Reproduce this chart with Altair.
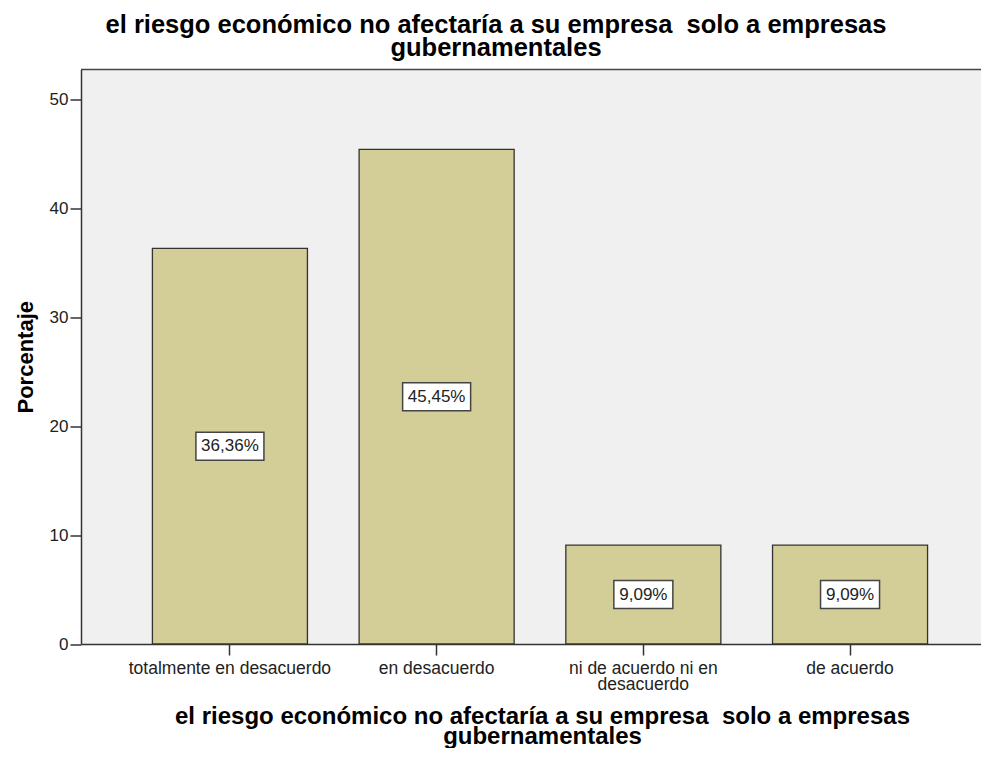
import altair as alt
import pandas as pd

categories = ["totalmente en desacuerdo", "en desacuerdo",
              "ni de acuerdo ni en desacuerdo", "de acuerdo"]
percentages = [36.36, 45.45, 9.09, 9.09]
y_ticks = [0, 10, 20, 30, 40, 50]
title_lines = ["el riesgo económico no afectaría a su empresa \u00a0solo a empresas",
               "gubernamentales"]
y_title = "Porcentaje"

df = pd.DataFrame({"cat": categories, "pct": percentages})

FONT = "Liberation Sans, Arial, sans-serif"
W, H = 900, 574.5

x_scale = alt.Scale(domain=categories, paddingInner=0.25, paddingOuter=0.302, align=0.572)
y_scale = alt.Scale(domain=[0, 52.8], nice=False, zero=True)

base = alt.Chart(df).transform_calculate(
    label="replace(format(datum.pct, '.2f'), '.', ',') + '%'",
    mid="datum.pct / 2",
).transform_calculate(
    nch="length(datum.label)"
)

x_axis = alt.Axis(
    orient="bottom", labelAngle=0, labelFont=FONT, labelFontSize=17.5,
    labelColor="#222", labelPadding=4, labelLineHeight=16, labelLimit=400,
    labelOverlap=False, labelBaseline="top",
    labelExpr="datum.value == 'ni de acuerdo ni en desacuerdo' ? ['ni de acuerdo ni en', 'desacuerdo'] : datum.label",
    domainColor="#333", domainWidth=1.5, tickColor="#333", tickWidth=1.5, tickSize=11,
    grid=False,
    titleFont=FONT, titleFontSize=24, titleFontWeight="bold", titleColor="#000",
    titleLineHeight=20, titleX=461, titleY=79, titleBaseline="alphabetic",
    titleAlign="center", titleAnchor="start",
)

y_axis = alt.Axis(
    values=y_ticks, labelFont=FONT, labelFontSize=17, labelColor="#222",
    labelPadding=2, tickSize=11, tickColor="#333", tickWidth=1.5,
    domainColor="#333", domainWidth=1.5, grid=False,
    titleFont=FONT, titleFontSize=22, titleFontWeight="bold", titleColor="#000",
    titlePadding=12,
)


def xenc():
    return alt.X("cat:N", scale=x_scale, sort=categories, axis=x_axis, title=title_lines)


def yenc(field):
    return alt.Y(field, scale=y_scale, axis=y_axis, title=y_title)


bars = base.mark_bar(fill="#D3CE97", stroke="#333333", strokeWidth=1.3).encode(
    x=xenc(), y=yenc("pct:Q"),
)

layers = [bars]
for n, w in [(6, 68), (5, 59)]:
    layers.append(
        base.transform_filter(f"datum.nch == {n}")
        .mark_bar(width=w, fill="white", stroke="#444", strokeWidth=1.5,
                  yOffset=-14, y2Offset=14)
        .encode(x=xenc(), y=yenc("mid:Q"), y2="mid:Q")
    )

texts = base.mark_text(font=FONT, fontSize=17, color="#222", baseline="middle",
                       align="center").encode(
    x=xenc(), y=yenc("mid:Q"), text="label:N",
)
layers.append(texts)

top_border = alt.Chart(pd.DataFrame({"k": [0]})).mark_rule(
    stroke="#444", strokeWidth=1.5).encode(
    y=alt.value(0), x=alt.value(0), x2=alt.value(W))
layers.append(top_border)

chart = alt.layer(*layers).properties(
    width=W, height=H,
    background="white",
    autosize=alt.AutoSizeParams(type="none"),
    padding={"left": 73, "top": 61.5, "right": 0, "bottom": 104},
    title=alt.TitleParams(
        title_lines, font=FONT, fontSize=25.5, fontWeight="bold", color="#000",
        lineHeight=23, anchor="middle", frame="group", dx=-35, dy=27,
        baseline="bottom", offset=9,
    ),
).configure_view(fill="#F0F0F0", stroke=None)

chart.save("out.html", embed_options={"renderer": "svg", "actions": False})
